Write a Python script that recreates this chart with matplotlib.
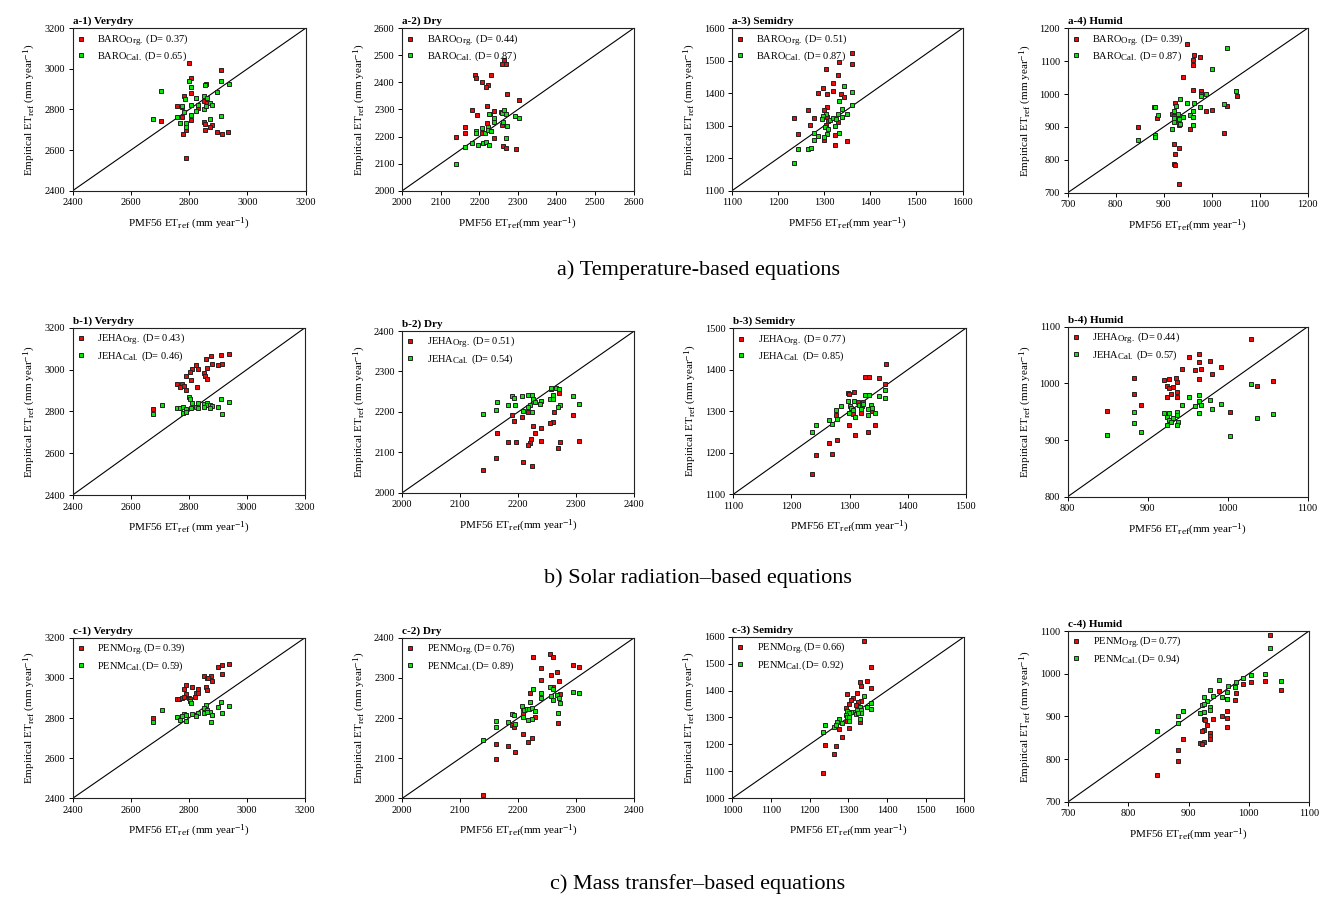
import matplotlib
matplotlib.use('Agg')
import matplotlib.pyplot as plt
import matplotlib._mathtext as _mt
import numpy as np

_mt.SHRINK_FACTOR = 0.85

plt.rcParams['font.family'] = ['Liberation Serif', 'DejaVu Serif']
plt.rcParams['mathtext.fontset'] = 'custom'
plt.rcParams['mathtext.rm'] = 'Liberation Serif'
plt.rcParams['mathtext.it'] = 'Liberation Serif:italic'
plt.rcParams['mathtext.bf'] = 'Liberation Serif:bold'

# ---------------- data (PMF56 x, empirical y) ----------------
a1_org_x = [2801, 2910, 2805, 2859, 2806, 2782, 2822, 2759, 2775, 2829, 2850, 2863, 2775, 2705, 2808, 2850, 2856, 2877, 2873, 2789, 2856, 2778, 2897, 2912, 2935, 2789]
a1_org_y = [3028, 2995, 2957, 2926, 2880, 2867, 2858, 2817, 2811, 2809, 2840, 2831, 2765, 2745, 2748, 2737, 2727, 2724, 2712, 2699, 2697, 2681, 2688, 2681, 2691, 2561]
a1_cal_x = [2705, 2800, 2805, 2910, 2936, 2856, 2897, 2851, 2863, 2825, 2786, 2775, 2808, 2829, 2871, 2877, 2850, 2859, 2782, 2822, 2805, 2759, 2677, 2873, 2910, 2770, 2790, 2789]
a1_cal_y = [2891, 2942, 2913, 2942, 2928, 2923, 2886, 2868, 2858, 2855, 2850, 2819, 2821, 2821, 2834, 2824, 2804, 2817, 2790, 2793, 2773, 2762, 2753, 2755, 2766, 2734, 2735, 2714]

a2_org_x = [2265, 2258, 2270, 2189, 2192, 2230, 2208, 2223, 2216, 2271, 2304, 2220, 2182, 2238, 2195, 2227, 2221, 2163, 2259, 2162, 2208, 2139, 2239, 2261, 2269, 2294]
a2_org_y = [2483, 2467, 2467, 2426, 2418, 2426, 2403, 2392, 2382, 2359, 2334, 2314, 2299, 2294, 2278, 2283, 2250, 2237, 2241, 2214, 2214, 2200, 2196, 2166, 2159, 2155]
a2_cal_x = [2139, 2162, 2182, 2196, 2210, 2216, 2224, 2190, 2192, 2208, 2215, 2222, 2222, 2230, 2226, 2239, 2238, 2256, 2259, 2265, 2270, 2261, 2271, 2293, 2304, 2268]
a2_cal_y = [2097, 2161, 2176, 2168, 2176, 2181, 2170, 2220, 2214, 2232, 2212, 2237, 2225, 2220, 2283, 2269, 2255, 2290, 2286, 2297, 2283, 2254, 2238, 2275, 2269, 2193]

a3_org_x = [1360, 1333, 1360, 1303, 1331, 1320, 1297, 1286, 1305, 1319, 1336, 1342, 1306, 1265, 1299, 1235, 1277, 1307, 1308, 1270, 1303, 1331, 1243, 1324, 1300, 1349, 1324]
a3_org_y = [1524, 1495, 1490, 1476, 1456, 1432, 1415, 1402, 1399, 1406, 1399, 1388, 1359, 1349, 1349, 1324, 1323, 1328, 1316, 1301, 1303, 1310, 1274, 1272, 1256, 1252, 1241]
a3_cal_x = [1360, 1343, 1333, 1360, 1338, 1304, 1297, 1296, 1312, 1320, 1326, 1331, 1338, 1349, 1302, 1308, 1324, 1277, 1286, 1305, 1333, 1278, 1300, 1243, 1265, 1272, 1235]
a3_cal_y = [1405, 1422, 1377, 1364, 1352, 1336, 1331, 1322, 1318, 1325, 1322, 1336, 1326, 1336, 1295, 1290, 1300, 1279, 1269, 1276, 1277, 1257, 1266, 1228, 1227, 1230, 1185]

a4_org_x = [949, 963, 975, 961, 961, 940, 961, 977, 977, 1052, 924, 880, 887, 1032, 1001, 989, 917, 921, 929, 933, 956, 847, 1025, 922, 933, 924, 921, 924, 933]
a4_org_y = [1151, 1119, 1112, 1104, 1089, 1051, 1012, 1008, 999, 993, 973, 961, 928, 963, 952, 947, 940, 933, 921, 905, 895, 900, 883, 849, 835, 818, 788, 784, 727]
a4_cal_x = [1032, 1000, 1051, 989, 977, 934, 949, 963, 926, 881, 975, 1025, 922, 961, 930, 889, 956, 940, 961, 921, 933, 921, 934, 961, 917, 881, 881, 847]
a4_cal_y = [1139, 1077, 1009, 999, 993, 986, 973, 973, 963, 962, 962, 969, 949, 947, 940, 936, 937, 931, 930, 927, 924, 914, 910, 905, 894, 875, 870, 860]

b1_org_x = [2937, 2912, 2875, 2859, 2825, 2879, 2900, 2914, 2832, 2864, 2810, 2803, 2852, 2857, 2790, 2863, 2807, 2759, 2778, 2783, 2770, 2829, 2789, 2677]
b1_org_y = [3076, 3069, 3066, 3049, 3023, 3026, 3021, 3026, 3002, 3006, 3001, 2990, 2985, 2967, 2969, 2956, 2948, 2932, 2932, 2921, 2915, 2916, 2900, 2811]
b1_cal_x = [2801, 2805, 2706, 2912, 2937, 2832, 2810, 2853, 2864, 2861, 2873, 2880, 2900, 2851, 2874, 2759, 2768, 2781, 2789, 2806, 2824, 2832, 2780, 2789, 2677, 2913]
b1_cal_y = [2867, 2861, 2829, 2861, 2846, 2841, 2838, 2837, 2841, 2830, 2830, 2827, 2822, 2821, 2814, 2816, 2816, 2822, 2813, 2814, 2819, 2814, 2794, 2797, 2789, 2787]

b2_org_x = [2257, 2270, 2189, 2192, 2207, 2216, 2261, 2294, 2259, 2254, 2226, 2239, 2163, 2229, 2222, 2220, 2216, 2182, 2196, 2239, 2272, 2268, 2304, 2162, 2208, 2223, 2139]
b2_org_y = [2256, 2246, 2191, 2178, 2187, 2200, 2199, 2191, 2175, 2172, 2166, 2161, 2148, 2148, 2133, 2124, 2117, 2126, 2125, 2129, 2125, 2110, 2129, 2085, 2077, 2066, 2056]
b2_cal_x = [2257, 2265, 2270, 2260, 2255, 2259, 2294, 2189, 2192, 2207, 2216, 2223, 2225, 2229, 2239, 2238, 2272, 2268, 2304, 2163, 2182, 2195, 2220, 2216, 2162, 2208, 2223, 2139]
b2_cal_y = [2259, 2260, 2256, 2242, 2233, 2232, 2239, 2239, 2235, 2238, 2241, 2242, 2231, 2225, 2228, 2219, 2218, 2213, 2219, 2225, 2218, 2218, 2216, 2213, 2205, 2203, 2199, 2195]

b3_org_x = [1362, 1326, 1334, 1350, 1361, 1308, 1297, 1299, 1315, 1324, 1322, 1319, 1306, 1338, 1277, 1299, 1344, 1332, 1309, 1278, 1265, 1242, 1270, 1235]
b3_org_y = [1414, 1382, 1382, 1380, 1365, 1347, 1345, 1341, 1322, 1322, 1314, 1296, 1294, 1300, 1290, 1268, 1268, 1251, 1244, 1232, 1224, 1194, 1197, 1150]
b3_cal_x = [1361, 1361, 1350, 1326, 1334, 1297, 1308, 1286, 1301, 1303, 1317, 1321, 1324, 1337, 1338, 1319, 1332, 1277, 1306, 1344, 1299, 1331, 1309, 1278, 1265, 1270, 1242, 1235]
b3_cal_y = [1351, 1333, 1338, 1339, 1339, 1324, 1326, 1313, 1312, 1308, 1316, 1313, 1317, 1314, 1307, 1306, 1305, 1303, 1302, 1295, 1295, 1290, 1286, 1282, 1278, 1269, 1267, 1249]

b4_org_x = [1029, 964, 951, 964, 978, 966, 992, 943, 959, 980, 883, 935, 927, 920, 964, 936, 1056, 924, 932, 1036, 927, 929, 937, 883, 924, 936, 891, 849, 1003]
b4_org_y = [1078, 1051, 1047, 1037, 1039, 1026, 1029, 1025, 1024, 1016, 1010, 1009, 1007, 1006, 1007, 1002, 1004, 995, 994, 995, 991, 981, 984, 981, 976, 976, 961, 952, 949]
b4_cal_x = [1029, 951, 964, 978, 964, 966, 992, 959, 943, 980, 883, 920, 927, 936, 964, 936, 924, 932, 927, 929, 938, 883, 924, 936, 1036, 1056, 891, 849, 1003]
b4_cal_y = [998, 976, 979, 971, 969, 962, 964, 960, 961, 955, 950, 947, 947, 949, 948, 944, 940, 939, 936, 931, 932, 930, 926, 926, 939, 946, 915, 909, 907]

c1_org_x = [2937, 2914, 2900, 2913, 2852, 2875, 2861, 2867, 2880, 2790, 2810, 2858, 2783, 2830, 2863, 2825, 2830, 2790, 2759, 2767, 2778, 2782, 2802, 2821, 2804, 2678]
c1_org_y = [3071, 3066, 3052, 3021, 3009, 3009, 3001, 2998, 2986, 2964, 2954, 2956, 2946, 2943, 2941, 2926, 2926, 2920, 2896, 2896, 2898, 2905, 2901, 2905, 2896, 2802]
c1_cal_x = [2912, 2937, 2900, 2858, 2852, 2803, 2807, 2706, 2863, 2874, 2852, 2864, 2914, 2880, 2810, 2830, 2784, 2790, 2759, 2825, 2778, 2770, 2790, 2678, 2875]
c1_cal_y = [2881, 2860, 2856, 2865, 2848, 2886, 2873, 2838, 2840, 2832, 2827, 2828, 2827, 2815, 2820, 2825, 2818, 2815, 2805, 2810, 2810, 2788, 2787, 2780, 2782]

c2_org_x = [2255, 2225, 2259, 2294, 2304, 2239, 2266, 2257, 2239, 2270, 2260, 2221, 2272, 2208, 2208, 2229, 2268, 2189, 2192, 2208, 2223, 2216, 2161, 2182, 2195, 2162, 2139]
c2_org_y = [2359, 2351, 2352, 2332, 2327, 2325, 2315, 2307, 2295, 2293, 2278, 2263, 2261, 2222, 2211, 2202, 2188, 2183, 2177, 2160, 2150, 2141, 2134, 2130, 2115, 2097, 2007]
c2_cal_x = [2254, 2259, 2226, 2294, 2304, 2239, 2257, 2266, 2239, 2270, 2260, 2272, 2221, 2207, 2209, 2215, 2219, 2223, 2229, 2189, 2192, 2208, 2268, 2161, 2182, 2195, 2216, 2223, 2162, 2139]
c2_cal_y = [2276, 2273, 2271, 2265, 2263, 2262, 2256, 2258, 2251, 2251, 2245, 2238, 2240, 2230, 2220, 2223, 2223, 2224, 2217, 2211, 2208, 2202, 2212, 2193, 2191, 2186, 2195, 2197, 2178, 2146]

c3_org_x = [1341, 1358, 1348, 1331, 1334, 1358, 1297, 1322, 1312, 1306, 1334, 1326, 1301, 1319, 1294, 1329, 1297, 1329, 1277, 1303, 1284, 1241, 1268, 1262, 1234]
c3_org_y = [1584, 1486, 1437, 1433, 1416, 1408, 1387, 1390, 1372, 1365, 1361, 1359, 1349, 1346, 1336, 1330, 1287, 1283, 1257, 1262, 1228, 1199, 1193, 1166, 1095]
c3_cal_x = [1341, 1358, 1348, 1358, 1331, 1334, 1334, 1322, 1297, 1312, 1319, 1306, 1301, 1294, 1326, 1297, 1303, 1329, 1301, 1277, 1284, 1271, 1263, 1268, 1241, 1234]
c3_cal_y = [1379, 1353, 1340, 1330, 1339, 1328, 1318, 1328, 1323, 1319, 1314, 1320, 1315, 1311, 1315, 1301, 1303, 1296, 1288, 1293, 1281, 1282, 1265, 1272, 1273, 1245]

c4_org_x = [1035, 1027, 1003, 991, 1054, 950, 979, 964, 977, 963, 955, 963, 926, 941, 928, 931, 963, 926, 923, 935, 935, 935, 890, 919, 926, 923, 883, 883, 848]
c4_org_y = [1091, 982, 980, 975, 961, 959, 955, 941, 938, 913, 901, 897, 894, 893, 891, 880, 875, 869, 866, 860, 855, 848, 846, 838, 839, 835, 822, 795, 763]
c4_cal_x = [1035, 1027, 1003, 991, 950, 1054, 979, 977, 966, 935, 963, 926, 941, 955, 963, 931, 923, 926, 935, 935, 890, 926, 919, 883, 883, 848]
c4_cal_y = [1061, 999, 997, 989, 986, 984, 981, 968, 970, 962, 957, 946, 947, 945, 940, 937, 927, 930, 922, 916, 913, 910, 908, 900, 884, 866]

# panel labels / index of agreement
titles = ['a-1) Verydry', 'a-2) Dry', 'a-3) Semidry', 'a-4) Humid',
          'b-1) Verydry', 'b-2) Dry', 'b-3) Semidry', 'b-4) Humid',
          'c-1) Verydry', 'c-2) Dry', 'c-3) Semidry', 'c-4) Humid']
equations = ['BARO', 'JEHA', 'PENM']
d_org = [0.37, 0.44, 0.51, 0.39, 0.43, 0.51, 0.77, 0.44, 0.39, 0.76, 0.66, 0.77]
d_cal = [0.65, 0.87, 0.87, 0.87, 0.46, 0.54, 0.85, 0.57, 0.59, 0.89, 0.92, 0.94]
limits = [(2400, 3200), (2000, 2600), (1100, 1600), (700, 1200),
          (2400, 3200), (2000, 2400), (1100, 1500), (800, 1100),
          (2400, 3200), (2000, 2400), (1000, 1600), (700, 1100)]
tick_steps = [200, 100, 100, 100, 200, 100, 100, 100, 200, 100, 100, 100]
captions = ['a) Temperature-based equations',
            'b) Solar radiation\u2013based equations',
            'c) Mass transfer\u2013based equations']

org_x = [a1_org_x, a2_org_x, a3_org_x, a4_org_x, b1_org_x, b2_org_x, b3_org_x, b4_org_x, c1_org_x, c2_org_x, c3_org_x, c4_org_x]
org_y = [a1_org_y, a2_org_y, a3_org_y, a4_org_y, b1_org_y, b2_org_y, b3_org_y, b4_org_y, c1_org_y, c2_org_y, c3_org_y, c4_org_y]
cal_x = [a1_cal_x, a2_cal_x, a3_cal_x, a4_cal_x, b1_cal_x, b2_cal_x, b3_cal_x, b4_cal_x, c1_cal_x, c2_cal_x, c3_cal_x, c4_cal_x]
cal_y = [a1_cal_y, a2_cal_y, a3_cal_y, a4_cal_y, b1_cal_y, b2_cal_y, b3_cal_y, b4_cal_y, c1_cal_y, c2_cal_y, c3_cal_y, c4_cal_y]

# ---------------- layout (pixel boxes: left, right, top, bottom) ----------------
W, H = 1322, 897
boxes = [(72.7, 305.5, 28.3, 190.7), (402.3, 633.5, 28.3, 190.7), (732.0, 962.5, 28.3, 190.7), (1067.7, 1307.5, 28.3, 192.7),
         (72.7, 305.0, 327.7, 495.0), (402.3, 634.3, 331.0, 492.7), (733.3, 965.7, 328.3, 494.3), (1067.7, 1307.7, 326.7, 496.7),
         (72.7, 305.0, 637.7, 798.3), (402.3, 634.3, 637.7, 798.3), (732.3, 964.3, 636.7, 798.3), (1068.3, 1309.0, 631.0, 801.7)]
caption_y = [270, 578, 884]

fig = plt.figure(figsize=(W / 100, H / 100), dpi=100)
FS = 7.5
RED = '#ee0a0a'
GREEN = '#0ae60a'

for i in range(12):
    l, r, t, b = boxes[i]
    ax = fig.add_axes([l / W, 1 - b / H, (r - l) / W, (b - t) / H])
    lo, hi = limits[i]
    row, col = divmod(i, 4)
    eq = equations[row]
    sep = '' if row == 2 else ' '
    ax.plot([lo, hi], [lo, hi], color='black', lw=0.8, zorder=1)
    ax.plot(org_x[i], org_y[i], 's', ms=3.4, mfc=RED, mec='#222222', mew=0.7, ls='none',
            label=f'{eq}$_{{\\mathrm{{Org.}}}}${sep}(D= {d_org[i]:.2f})', zorder=3)
    ax.plot(cal_x[i], cal_y[i], 's', ms=3.4, mfc=GREEN, mec='#222222', mew=0.7, ls='none',
            label=f'{eq}$_{{\\mathrm{{Cal.}}}}${sep}(D= {d_cal[i]:.2f})', zorder=3)
    ax.set_xlim(lo, hi)
    ax.set_ylim(lo, hi)
    ticks = np.arange(lo, hi + 1, tick_steps[i])
    ax.set_xticks(ticks)
    ax.set_yticks(ticks)
    ax.tick_params(direction='out', length=3, width=0.7, labelsize=FS, pad=2.5)
    for s in ax.spines.values():
        s.set_linewidth(0.8)
        s.set_color('#222222')
    ax.set_title(titles[i], loc='left', fontsize=FS + 0.5, fontweight='bold', pad=3)
    space = ' ' if col == 0 else ''
    ax.set_xlabel('PMF56 ET$_{\\mathrm{ref}}$' + space + '(mm year$^{-1}$)', fontsize=8, labelpad=6)
    ax.set_ylabel('Empirical ET$_{\\mathrm{ref}}$ (mm year$^{-1}$)', fontsize=8, labelpad=5)
    ax.legend(loc='upper left', frameon=False, fontsize=FS, handlelength=0.8,
              handletextpad=1.2, labelspacing=0.2, borderaxespad=0.15, borderpad=0.2)

for k in range(3):
    fig.text(698 / W, 1 - caption_y[k] / H, captions[k], ha='center', va='center', fontsize=16)

fig.savefig('out.png', dpi=100)
